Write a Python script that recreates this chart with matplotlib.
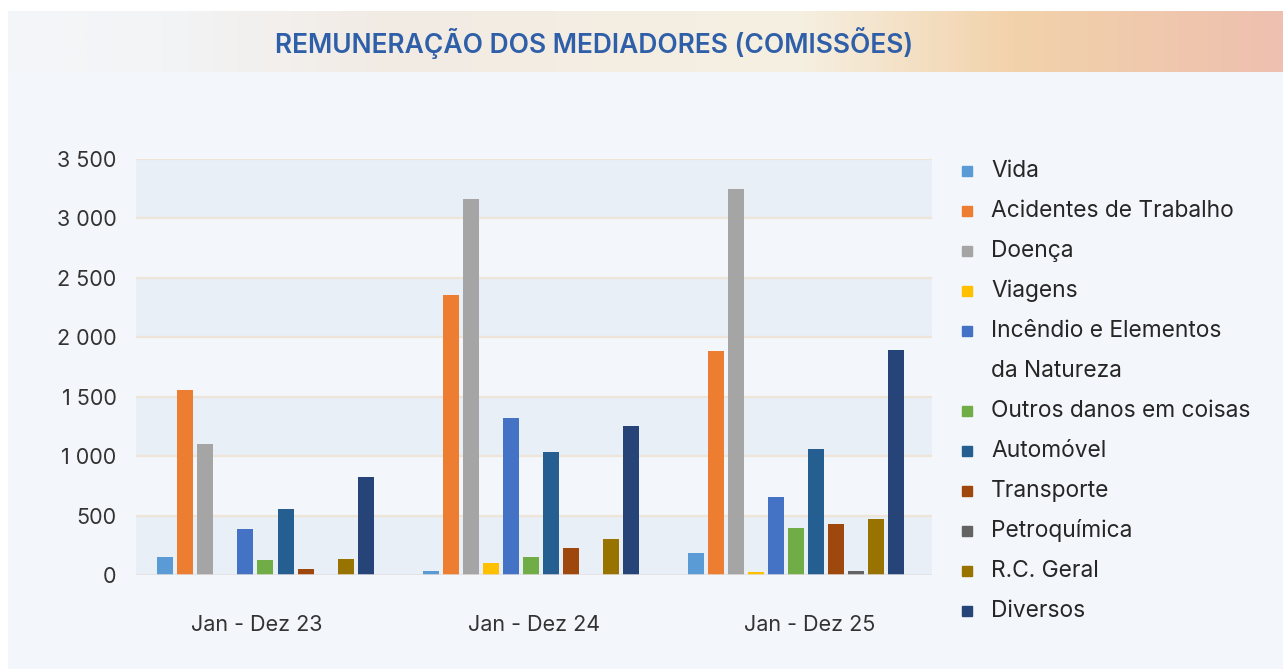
import numpy as np
import matplotlib.pyplot as plt
from matplotlib.colors import LinearSegmentedColormap
from matplotlib.patches import Rectangle

# Data
periods = ['Jan - Dez 23', 'Jan - Dez 24', 'Jan - Dez 25']
series = ['Vida', 'Acidentes de Trabalho', 'Doença', 'Viagens',
          'Incêndio e Elementos\nda Natureza', 'Outros danos em coisas',
          'Automóvel', 'Transporte', 'Petroquímica', 'R.C. Geral', 'Diversos']
vida = [150, 30, 185]
acidentes = [1557, 2357, 1886]
doenca = [1103, 3165, 3249]
viagens = [0, 101, 25]
incendio = [387, 1322, 657]
outros = [126, 152, 396]
automovel = [556, 1035, 1061]
transporte = [50, 227, 429]
petroquimica = [0, 0, 34]
rc_geral = [135, 303, 471]
diversos = [825, 1254, 1894]
values = [vida, acidentes, doenca, viagens, incendio, outros,
          automovel, transporte, petroquimica, rc_geral, diversos]
colors = ['#5B9BD5', '#ED7D31', '#A5A5A5', '#FFC000', '#4472C4', '#70AD47',
          '#255E91', '#9E480E', '#636363', '#997300', '#264478']
yticks = [0, 500, 1000, 1500, 2000, 2500, 3000, 3500]

W, H = 1283, 669
fig = plt.figure(figsize=(W / 100, H / 100), dpi=100)
fig.patch.set_facecolor('white')

# page background
bg = fig.add_axes([8 / W, 0, 1 - 8 / W, 1 - 11 / H])
bg.set_facecolor('#F3F6FA')
bg.set_axis_off()
bg.add_patch(Rectangle((0, 0), 1, 1, transform=bg.transAxes, color='#F3F6FA', zorder=0))

# title band gradient
band = fig.add_axes([8 / W, 1 - 72 / H, 1 - 8 / W, 61 / H])
cmap = LinearSegmentedColormap.from_list('band', [
    (0.0, '#F3F6F9'), (0.12, '#F3F4F6'), (0.3, '#F2EBE4'), (0.62, '#F6F0E2'),
    (0.79, '#F2D2AA'), (1.0, '#EEC0B0')])
band.imshow(np.linspace(0, 1, 512).reshape(1, -1), aspect='auto', cmap=cmap,
            extent=[0, 1, 0, 1])
band.set_axis_off()
fig.text(594 / W, 1 - 43 / H, 'REMUNERAÇÃO DOS MEDIADORES (COMISSÕES)',
         ha='center', va='center', fontsize=19, fontweight='semibold',
         color='#2E5FA8', family='Inter')

# chart
ax = fig.add_axes([136 / W, (H - 575) / H, 796 / W, 416 / H])
ax.set_facecolor('none')
ax.set_xlim(-0.5, 2.5)
ax.set_ylim(0, 3500)

for lo in range(0, 3500, 1000):
    ax.axhspan(lo, lo + 500, color='#E8EFF7', zorder=0, lw=0)
for yv in yticks[1:]:
    ax.axhline(yv, color='#EFE4D8', lw=1.6, zorder=1)
ax.axhline(0, color='#E4DFDF', lw=1.8, zorder=3)

x = np.arange(len(periods))
slot = 0.0755
bw = 0.0604
n = len(series)
for i, (vals, col) in enumerate(zip(values, colors)):
    off = (i - (n - 1) / 2) * slot - 0.012
    ax.bar(x + off, vals, width=bw, color=col, zorder=2)

for s in ax.spines.values():
    s.set_visible(False)
ax.set_yticks(yticks)
ax.set_yticklabels([f'{v:,}'.replace(',', ' ') for v in yticks])
ax.set_xticks(x + np.array([-0.045, 0.0, 0.04]))
ax.set_xticklabels(periods)
ax.tick_params(axis='both', length=0, labelsize=15.5, labelcolor='#333333')
ax.tick_params(axis='y', pad=14)
ax.tick_params(axis='x', pad=29)
for lab in ax.get_xticklabels() + ax.get_yticklabels():
    lab.set_family('Inter')

# legend
ly = 171
for name, col in zip(series, colors):
    fig.patches.append(Rectangle((962 / W, 1 - (ly + 5) / H), 10 / W, 10 / H,
                                 transform=fig.transFigure, color=col))
    for k, line in enumerate(name.split('\n')):
        fig.text(991 / W, 1 - (ly + 40 * k) / H, line, ha='left', va='center',
                 fontsize=16.4, color='#262626', family='Inter')
    ly += 40 * len(name.split('\n'))

fig.savefig('out.png', dpi=100, facecolor=fig.get_facecolor())
